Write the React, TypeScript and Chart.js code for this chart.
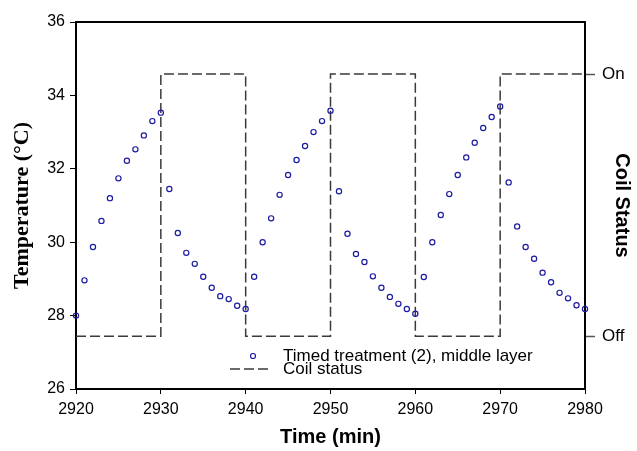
import React, { useEffect, useRef } from "react";
import { Chart, registerables } from "chart.js";

Chart.register(...registerables);

// ---- data ----
const times = [
  2920, 2921, 2922, 2923, 2924, 2925, 2926, 2927, 2928, 2929,
  2930, 2931, 2932, 2933, 2934, 2935, 2936, 2937, 2938, 2939,
  2940, 2941, 2942, 2943, 2944, 2945, 2946, 2947, 2948, 2949,
  2950, 2951, 2952, 2953, 2954, 2955, 2956, 2957, 2958, 2959,
  2960, 2961, 2962, 2963, 2964, 2965, 2966, 2967, 2968, 2969,
  2970, 2971, 2972, 2973, 2974, 2975, 2976, 2977, 2978, 2979,
  2980,
];
const temperatures = [
  28.0, 28.96, 29.87, 30.58, 31.2, 31.74, 32.22, 32.53, 32.91, 33.3,
  33.53, 31.45, 30.25, 29.71, 29.41, 29.06, 28.76, 28.53, 28.45, 28.27,
  28.18, 29.06, 30.0, 30.65, 31.29, 31.83, 32.24, 32.62, 33.0, 33.3,
  33.58, 31.39, 30.23, 29.68, 29.46, 29.07, 28.76, 28.51, 28.32, 28.18,
  28.05, 29.05, 30.0, 30.74, 31.31, 31.83, 32.31, 32.71, 33.11, 33.41,
  33.7, 31.63, 30.43, 29.87, 29.55, 29.17, 28.91, 28.62, 28.47, 28.28,
  28.18,
];
const coilChangeTimes = [2920, 2930, 2940, 2950, 2960, 2970, 2980];
const coilStates = ["Off", "On", "Off", "On", "Off", "On", "On"];
const COIL_ON_LEVEL = 34.58;
const COIL_OFF_LEVEL = 27.44;
const coilTickLabels = ["Off", "On"];
const seriesLabels = ["Timed treatment (2), middle layer", "Coil status"];
const xRange = [2920, 2980];
const yRange = [26, 36];

const MARKER_COLOR = "#1c1ca0";
const COIL_COLOR = "#3a3a3a";
const SANS = '"Liberation Sans", Arial, sans-serif';
const SERIF = '"Liberation Serif", "Times New Roman", serif';

const coilLevel = (s: string) => (s === "On" ? COIL_ON_LEVEL : COIL_OFF_LEVEL);

const legendPlugin = {
  id: "insideLegend",
  afterDraw(chart: any) {
    const ctx = chart.ctx;
    const ds = chart.data.datasets;
    ctx.save();
    ctx.font = `17px ${SANS}`;
    ctx.textBaseline = "middle";
    ctx.textAlign = "left";
    ctx.fillStyle = "#000";
    // row 1: marker
    ctx.beginPath();
    ctx.arc(253, 356, 2.5, 0, Math.PI * 2);
    ctx.strokeStyle = MARKER_COLOR;
    ctx.lineWidth = 1.2;
    ctx.stroke();
    ctx.fillText(ds[0].label, 283, 356);
    // row 2: dashed
    ctx.beginPath();
    ctx.setLineDash([10, 4]);
    ctx.strokeStyle = COIL_COLOR;
    ctx.lineWidth = 1.5;
    ctx.moveTo(230, 369);
    ctx.lineTo(270, 369);
    ctx.stroke();
    ctx.setLineDash([]);
    ctx.fillText(ds[1].label, 283, 369);
    ctx.restore();
  },
};

export default function App() {
  const ref = useRef<HTMLCanvasElement | null>(null);

  useEffect(() => {
    if (!ref.current) return;
    const chart = new Chart(ref.current, {
      type: "scatter",
      data: {
        datasets: [
          {
            label: seriesLabels[0],
            data: times.map((t, i) => ({ x: t, y: temperatures[i] })),
            showLine: false,
            pointStyle: "circle",
            pointRadius: 2.6,
            pointBorderWidth: 1.2,
            pointBorderColor: MARKER_COLOR,
            pointBackgroundColor: "rgba(0,0,0,0)",
            clip: false as any,
            order: 1,
          },
          {
            type: "line" as any,
            label: seriesLabels[1],
            data: coilChangeTimes.map((t, i) => ({ x: t, y: coilLevel(coilStates[i]) })),
            showLine: true,
            stepped: "before" as any,
            borderColor: COIL_COLOR,
            borderWidth: 1.5,
            borderDash: [10, 4],
            pointRadius: 0,
            fill: false,
            clip: false as any,
            order: 2,
          },
        ],
      },
      options: {
        animation: false,
        responsive: false,
        devicePixelRatio: 1,
        layout: { padding: { top: 22, left: 0, right: 0, bottom: 0 } },
        plugins: {
          legend: { display: false },
          tooltip: { enabled: false },
        },
        scales: {
          x: {
            type: "linear",
            position: "bottom",
            min: xRange[0],
            max: xRange[1],
            ticks: {
              stepSize: 10,
              color: "#000",
              font: { family: SANS, size: 16 },
              padding: 6,
              maxRotation: 0,
              callback: (v: any) => String(v),
            },
            grid: {
              display: true,
              drawOnChartArea: false,
              drawTicks: true,
              tickLength: 5,
              tickColor: "#000",
              tickWidth: 1,
            },
            border: { display: true, color: "#000", width: 2 },
            title: {
              display: true,
              text: "Time (min)",
              color: "#000",
              font: { family: SANS, size: 20, weight: "bold" },
              padding: { top: 0, bottom: 2 },
            },
            afterFit: (s: any) => {
              s.height = 62;
            },
          },
          xTop: {
            type: "linear",
            position: "top",
            min: xRange[0],
            max: xRange[1],
            ticks: { display: false },
            grid: { display: false, drawTicks: false },
            border: { display: true, color: "#000", width: 2 },
            afterFit: (s: any) => {
              s.height = 0;
            },
          },
          y: {
            type: "linear",
            position: "left",
            min: yRange[0],
            max: yRange[1],
            ticks: {
              stepSize: 2,
              color: "#000",
              font: { family: SANS, size: 16 },
              padding: 5,
            },
            grid: {
              display: true,
              drawOnChartArea: false,
              drawTicks: true,
              tickLength: 6,
              tickColor: "#000",
              tickWidth: 1,
            },
            border: { display: true, color: "#000", width: 2 },
            title: {
              display: true,
              text: "Temperature (°C)",
              color: "#000",
              font: { family: SERIF, size: 22, weight: "bold" },
              padding: { top: 9, bottom: 0 },
            },
            afterFit: (s: any) => {
              s.width = 76;
            },
          },
          y2: {
            type: "linear",
            position: "right",
            min: yRange[0],
            max: yRange[1],
            afterBuildTicks: (s: any) => {
              s.ticks = [{ value: COIL_OFF_LEVEL }, { value: COIL_ON_LEVEL }];
            },
            ticks: {
              color: "#000",
              font: { family: SANS, size: 17 },
              padding: 7,
              callback: (v: any) => (Math.abs(v - COIL_ON_LEVEL) < 0.01 ? coilTickLabels[1] : coilTickLabels[0]),
            },
            grid: {
              display: true,
              drawOnChartArea: false,
              drawTicks: true,
              tickLength: 10,
              tickColor: "#555",
              tickWidth: 1.5,
            },
            border: { display: true, color: "#000", width: 2 },
            title: {
              display: true,
              text: "Coil Status",
              color: "#000",
              font: { family: SANS, size: 20, weight: "bold" },
              padding: { top: 3, bottom: 0 },
            },
            afterFit: (s: any) => {
              s.width = 52;
            },
          },
        },
      } as any,
      plugins: [legendPlugin],
    });
    return () => chart.destroy();
  }, []);

  return (
    <div style={{ position: "fixed", left: 0, top: 0, width: 637, height: 451, background: "#fff" }}>
      <canvas ref={ref} width={637} height={451} style={{ display: "block" }} />
    </div>
  );
}
